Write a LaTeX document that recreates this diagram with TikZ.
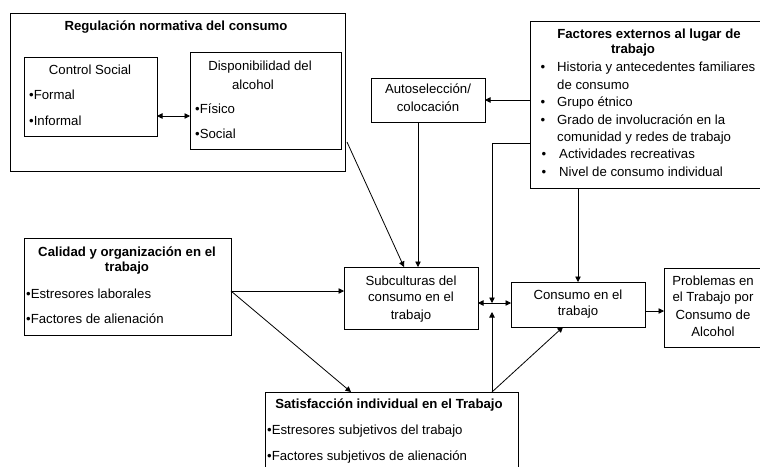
\documentclass[tikz,border=0pt]{standalone}
\usepackage{fontspec}
\setmainfont{Liberation Sans}
\usetikzlibrary{arrows.meta,fit}
\tikzset{
  box/.style={draw=black, line width=0.8pt, inner sep=0pt, fill=none},
  txt/.style={inner sep=0pt, font=\fontsize{13.2}{15}\selectfont, text height=9pt, text depth=2.5pt},
  btxt/.style={txt, font=\fontsize{13.2}{15}\selectfont\bfseries},
  conn/.style={draw=black, line width=0.8pt},
  arr/.style={conn, -{Triangle[length=5.5pt,width=5.5pt]}},
  darr/.style={conn, {Triangle[length=5.5pt,width=5.5pt]}-{Triangle[length=5.5pt,width=5.5pt]}}
}
\begin{document}
\begin{tikzpicture}[x=1pt,y=-1pt]
\useasboundingbox (0,0) rectangle (760,466);
\clip (0,0) rectangle (760,466);
\fill[white] (0,0) rectangle (760,466);

% Regulacion normativa
\node[box, fit={(10,13) (345,171)}] (reg) {};
\node[btxt] (regt) at (176,27) {Regulación normativa del consumo};
\node[box, fit={(24,57) (157,136)}] (cs) {};
\node[txt] (cst) at (90,71) {Control Social};
\node[txt, anchor=west] (cs1) at (29,96) {•Formal};
\node[txt, anchor=west] (cs2) at (29,122) {•Informal};
\node[box, fit={(190,52) (341,149)}] (disp) {};
\node[txt] (dt1) at (260,67) {Disponibilidad del};
\node[txt] (dt2) at (253,86) {alcohol};
\node[txt, anchor=west] (d1) at (195,110) {•Físico};
\node[txt, anchor=west] (d2) at (195,135) {•Social};
\coordinate (csE) at (157,116);
\coordinate (dispW) at (190,116);
\draw[darr] (csE) -- (dispW);

% Autoseleccion
\node[box, fit={(371,78) (485,122)}] (auto) {};
\node[txt] (a1) at (428,90) {Autoselección/};
\node[txt] (a2) at (428,108) {colocación};

% Factores externos
\node[box, fit={(530,21) (790,188)}] (fact) {};
\node[btxt] (ft1) at (649,35) {Factores externos al lugar de};
\node[btxt] (ft2) at (633,50) {trabajo};
\node[txt] (fb1) at (543,68) {•};
\node[txt, anchor=west] (f1) at (557,68) {Historia y antecedentes familiares};
\node[txt, anchor=west] (f1b) at (557,86) {de consumo};
\node[txt] (fb2) at (543,103) {•};
\node[txt, anchor=west] (f2) at (557,103) {Grupo étnico};
\node[txt] (fb3) at (543,121) {•};
\node[txt, anchor=west] (f3) at (557,121) {Grado de involucración en la};
\node[txt, anchor=west] (f3b) at (557,138) {comunidad y redes de trabajo};
\node[txt] (fb4) at (544,155) {•};
\node[txt, anchor=west] (f4) at (559,155) {Actividades recreativas};
\node[txt] (fb5) at (544,173) {•};
\node[txt, anchor=west] (f5) at (559,173) {Nivel de consumo individual};

% Subculturas
\node[box, fit={(344,267) (478,329)}] (subc) {};
\node[txt] (s1) at (411,282) {Subculturas del};
\node[txt] (s2) at (411,298) {consumo en el};
\node[txt] (s3) at (411,316) {trabajo};

% Consumo
\node[box, fit={(511,282) (645,327)}] (cons) {};
\node[txt] (c1) at (578,296) {Consumo en el};
\node[txt] (c2) at (578,312) {trabajo};

% Problemas
\node[box, fit={(664,268) (790,347)}] (prob) {};
\node[txt] (p1) at (713,282) {Problemas en};
\node[txt] (p2) at (713,298) {el Trabajo por};
\node[txt] (p3) at (713,316) {Consumo de};
\node[txt] (p4) at (713,333) {Alcohol};

% Calidad
\node[box, fit={(24,238) (231,335)}] (cal) {};
\node[btxt] (ct1) at (127,253) {Calidad y organización en el};
\node[btxt] (ct2) at (127,268) {trabajo};
\node[txt, anchor=west] (cl1) at (26,295) {•Estresores laborales};
\node[txt, anchor=west] (cl2) at (26,320) {•Factores de alienación};

% Satisfaccion
\node[box, fit={(265,392) (518,490)}] (sat) {};
\node[btxt] (st) at (389,405) {Satisfacción individual en el Trabajo};
\node[txt, anchor=west] (st1) at (267,431) {•Estresores subjetivos del trabajo};
\node[txt, anchor=west] (st2) at (267,457) {•Factores subjetivos de alienación};

% Connectors
\coordinate (regE) at (347,142);
\coordinate (subcN1) at (404,267);
\draw[arr] (regE) -- (subcN1);
\coordinate (autoS) at (418,122);
\coordinate (subcN2) at (418,267);
\draw[arr] (autoS) -- (subcN2);
\coordinate (factW1) at (530,100);
\coordinate (autoE) at (485,100);
\draw[arr] (factW1) -- (autoE);
\coordinate (factW2) at (530,143);
\coordinate (bend) at (492,143);
\coordinate (midTop) at (492,303);
\draw[arr] (factW2) -- (bend) -- (midTop);
\coordinate (factS) at (578,188);
\coordinate (consN) at (578,282);
\draw[arr] (factS) -- (consN);
\coordinate (calE) at (231,291);
\coordinate (subcW) at (344,291);
\draw[arr] (calE) -- (subcW);
\coordinate (satN1) at (351,392);
\draw[arr] (calE) -- (satN1);
\coordinate (subcE) at (478,303);
\coordinate (consW) at (511,303);
\draw[darr] (subcE) -- (consW);
\coordinate (satN2) at (492,392);
\coordinate (midBot) at (492,312);
\draw[arr] (satN2) -- (midBot);
\coordinate (consS) at (563,327);
\draw[arr] (satN2) -- (consS);
\coordinate (consE) at (645,311);
\coordinate (probW) at (664,311);
\draw[arr] (consE) -- (probW);
\end{tikzpicture}
\end{document}
